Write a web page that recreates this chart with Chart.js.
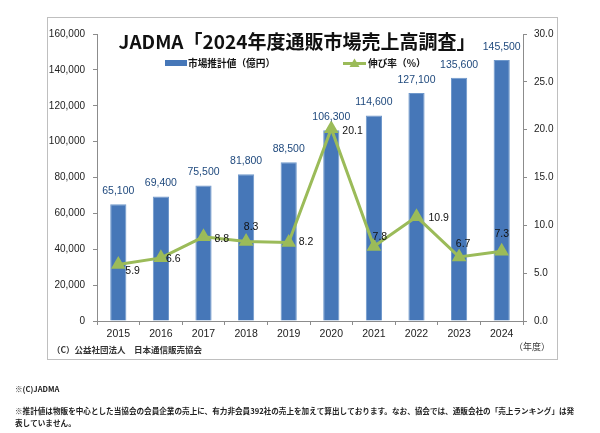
<!DOCTYPE html>
<html>
<head>
<meta charset="utf-8">
<script src="https://cdn.jsdelivr.net/npm/chart.js@4"></script>
<style>
  html, body { margin: 0; padding: 0; background: #fff; }
  #wrap { position: relative; width: 600px; height: 433px; }
</style>
</head>
<body>
<div id="wrap"><canvas id="salesChart" width="600" height="433"></canvas></div>
<script>
const years = ['2015', '2016', '2017', '2018', '2019', '2020', '2021', '2022', '2023', '2024'];
const sales = [65100, 69400, 75500, 81800, 88500, 106300, 114600, 127100, 135600, 145500];
const growth = [5.9, 6.6, 8.8, 8.3, 8.2, 20.1, 7.8, 10.9, 6.7, 7.3];
const leftTicks = [0, 160000, 20000];
const rightTicks = [0, 30, 5];

// where each growth label sits relative to its point
const growthLabelPos = [
  [7, 7, 'left'], [5, 1, 'left'], [11, 2, 'left'], [5, -14, 'center'], [10, 0, 'left'],
  [11, 2, 'left'], [6, -9, 'center'], [12, 1, 'left'], [4, -13, 'center'], [0, -17, 'center']
];

const JP = '"Noto Sans CJK JP", "Noto Sans", sans-serif';
const NUM = '"Liberation Sans", Arial, sans-serif';
const BLUE = '#4677b8';
const GREEN = '#9bbb59';
const AXIS = '#8c8c8c';

const extras = {
  id: 'extras',
  beforeDraw(chart) {
    const c = chart.ctx;
    c.save();
    c.fillStyle = '#fff';
    c.fillRect(0, 0, chart.width, chart.height);
    c.strokeStyle = '#bfbfbf';
    c.lineWidth = 1;
    c.strokeRect(47.5, 17.5, 510, 342);
    c.restore();
  },
  afterDatasetsDraw(chart) {
    const c = chart.ctx;
    c.save();
    // title
    c.fillStyle = '#111';
    c.font = 'bold 19px ' + JP;
    c.textAlign = 'center';
    c.textBaseline = 'middle';
    c.fillText('JADMA「2024年度通販市場売上高調査」', 297, 42);

    // legend
    c.fillStyle = BLUE;
    c.fillRect(165, 60, 22, 6);
    c.fillStyle = '#111';
    c.font = 'bold 9.7px ' + JP;
    c.textAlign = 'left';
    c.fillText('市場推計値（億円）', 188, 63);
    c.strokeStyle = GREEN;
    c.lineWidth = 3;
    c.beginPath(); c.moveTo(343, 63.5); c.lineTo(366, 63.5); c.stroke();
    c.fillStyle = GREEN;
    c.beginPath(); c.moveTo(354.5, 58.5); c.lineTo(359.5, 67); c.lineTo(349.5, 67); c.closePath(); c.fill();
    c.fillStyle = '#111';
    c.fillText('伸び率（%）', 368, 63);

    // bar values
    const bars = chart.getDatasetMeta(0).data;
    c.fillStyle = '#1f497d';
    c.font = '10.5px ' + NUM;
    c.textAlign = 'center';
    bars.forEach((b, i) => {
      c.fillText(sales[i].toLocaleString('en-US'), b.x, b.y - 13);
    });

    // growth values
    const pts = chart.getDatasetMeta(1).data;
    c.fillStyle = '#111';
    pts.forEach((p, i) => {
      const o = growthLabelPos[i];
      c.textAlign = o[2];
      c.fillText(growth[i].toFixed(1), p.x + o[0], p.y + o[1]);
    });

    // notes inside frame
    c.fillStyle = '#333';
    c.font = '600 8.5px ' + JP;
    c.textAlign = 'left';
    c.fillText('（C）公益社団法人　日本通信販売協会', 52, 350);
    c.font = '9px ' + JP;
    c.textAlign = 'right';
    c.fillText('（年度）', 550, 347);

    // footnotes
    c.fillStyle = '#222';
    c.font = 'bold 7.6px ' + JP;
    c.textAlign = 'left';
    c.fillText('※(C)JADMA', 15, 389);
    c.fillText('※推計値は物販を中心とした当協会の会員企業の売上に、有力非会員392社の売上を加えて算出しております。なお、協会では、通販会社の「売上ランキング」は発', 15, 411);
    c.fillText('表していません。', 15, 423);
    c.restore();
  }
};

new Chart(document.getElementById('salesChart'), {
  type: 'bar',
  data: {
    labels: years,
    datasets: [{
      label: '市場推計値（億円）',
      data: sales,
      backgroundColor: BLUE,
      borderColor: '#6f98cb',
      borderWidth: 1,
      barPercentage: 0.38,
      categoryPercentage: 1,
      yAxisID: 'y',
      order: 2
    }, {
      type: 'line',
      label: '伸び率（%）',
      data: growth,
      borderColor: GREEN,
      backgroundColor: GREEN,
      borderWidth: 3,
      pointStyle: 'triangle',
      pointRadius: 5.5,
      pointHoverRadius: 5.5,
      tension: 0,
      yAxisID: 'y1',
      order: 1
    }]
  },
  options: {
    responsive: false,
    animation: false,
    events: [],
    layout: { padding: { top: 34, left: 0, right: 0, bottom: 0 } },
    plugins: { legend: { display: false }, title: { display: false }, tooltip: { enabled: false } },
    scales: {
      x: {
        offset: true,
        grid: { offset: true, drawOnChartArea: false, tickLength: 4, color: AXIS },
        border: { color: AXIS },
        ticks: { color: '#222', font: { family: NUM, size: 10.5 }, padding: 3 },
        afterFit(s) { s.height = 112; }
      },
      y: {
        position: 'left',
        min: leftTicks[0], max: leftTicks[1],
        grid: { drawOnChartArea: false, tickLength: 4, color: AXIS },
        border: { color: AXIS },
        ticks: {
          stepSize: leftTicks[2], color: '#222', padding: 8,
          font: { family: NUM, size: 10 },
          callback: v => v.toLocaleString('en-US')
        },
        afterFit(s) { s.width = 97; }
      },
      y1: {
        position: 'right',
        min: rightTicks[0], max: rightTicks[1],
        grid: { drawOnChartArea: false, tickLength: 4, color: AXIS },
        border: { color: AXIS },
        ticks: {
          stepSize: rightTicks[2], color: '#222', padding: 7,
          font: { family: NUM, size: 10 },
          callback: v => v.toFixed(1)
        },
        afterFit(s) { s.width = 77; }
      }
    }
  },
  plugins: [extras]
});
</script>
</body>
</html>
